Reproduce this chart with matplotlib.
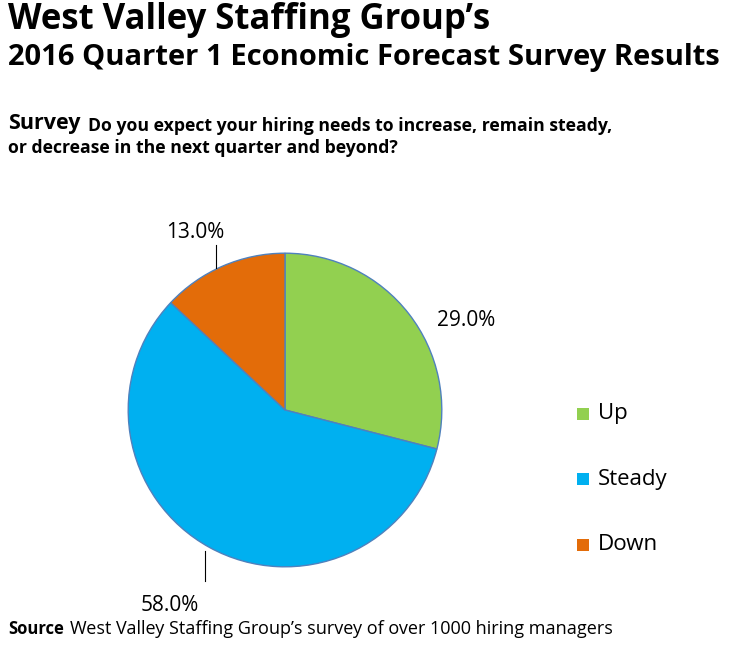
import matplotlib.pyplot as plt
import numpy as np

plt.rcParams['font.family'] = 'Open Sans'

labels = ['Up', 'Steady', 'Down']
values = [29.0, 58.0, 13.0]
colors = ['#92d050', '#00b0f0', '#e36c09']

fig = plt.figure(figsize=(7.32, 6.5), dpi=100)

fig.text(8 / 732, 1 - 20 / 650, "West Valley Staffing Group\u2019s", fontsize=25, fontweight='bold', va='center')
fig.text(8 / 732, 1 - 58 / 650, "2016 Quarter 1 Economic Forecast Survey Results", fontsize=21, fontweight='bold', va='center')
fig.text(8 / 732, 1 - 124 / 650, "Survey", fontsize=15.5, fontweight='bold', va='center')
fig.text(88 / 732, 1 - 126 / 650, "Do you expect your hiring needs to increase, remain steady,", fontsize=12.7, fontweight='bold', va='center')
fig.text(8 / 732, 1 - 148 / 650, "or decrease in the next quarter and beyond?", fontsize=12.7, fontweight='bold', va='center')
fig.text(8 / 732, 1 - 629 / 650, "Source", fontsize=12, fontweight='bold', va='center')
fig.text(70 / 732, 1 - 629 / 650, "West Valley Staffing Group\u2019s survey of over 1000 hiring managers", fontsize=13, va='center')

ax = fig.add_axes([125 / 732, 80 / 650, 320 / 732, 320 / 650])
wedges, _ = ax.pie(values, colors=colors, startangle=90, counterclock=False, radius=0.98,
                   wedgeprops=dict(edgecolor='#4f81bd', linewidth=1))
ax.set_xlim(-1, 1)
ax.set_ylim(-1, 1)
ax.set_aspect('equal')

# label positions (relative to pie centre, in radius units)
label_pos = [(1.13, 0.56), (-0.72, -1.22), (-0.56, 1.11)]
for v, (x, y) in zip(values, label_pos):
    ax.text(x, y, f"{v:.1f}%", fontsize=15, ha='center', va='center', clip_on=False)
ax.plot([-0.43, -0.43], [0.89, 1.03], color='black', lw=0.8, clip_on=False)
ax.plot([-0.50, -0.50], [-0.88, -1.07], color='black', lw=0.8, clip_on=False)

for i, (lab, c) in enumerate(zip(labels, colors)):
    y = 1 - (414 + i * 65.5) / 650
    fig.patches.append(plt.Rectangle((577 / 732, y - 6 / 650), 12 / 732, 12 / 650,
                                     facecolor=c, transform=fig.transFigure, figure=fig))
    fig.text(598 / 732, y, lab, fontsize=16, va='center')

fig.savefig('out.png', dpi=100)
